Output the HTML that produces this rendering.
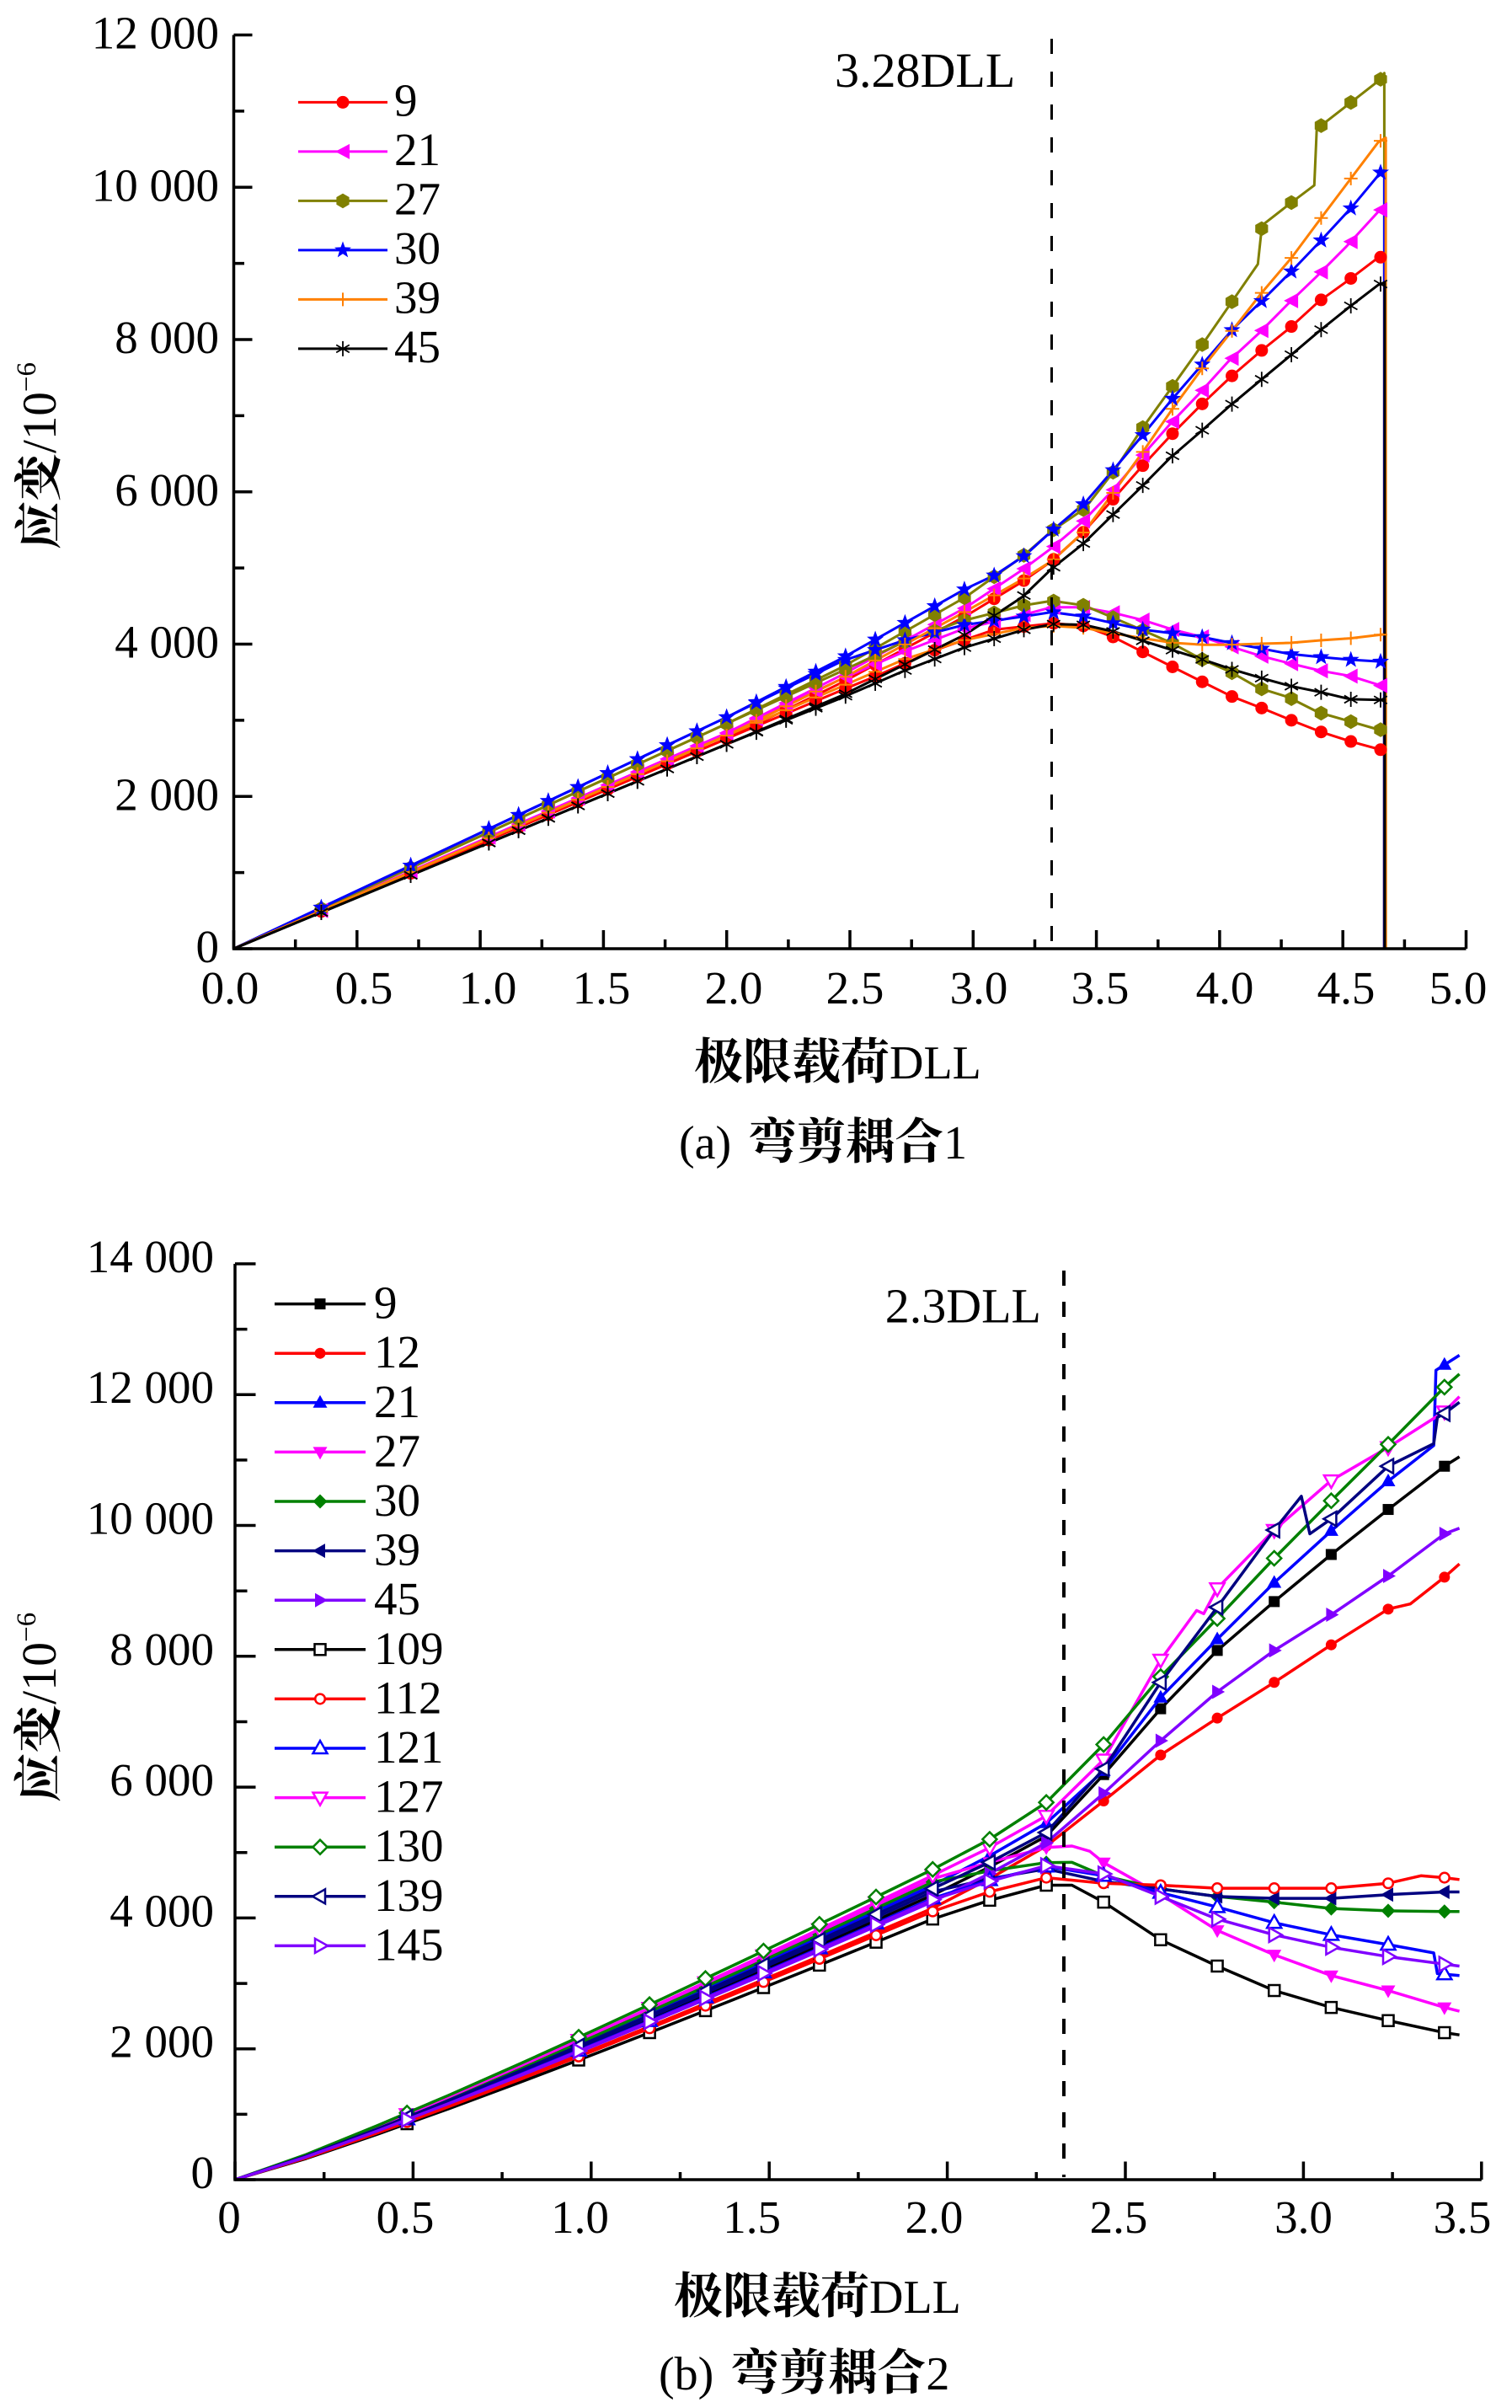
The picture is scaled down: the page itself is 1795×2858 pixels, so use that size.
<!DOCTYPE html>
<html><head><meta charset="utf-8">
<style>
html,body{margin:0;padding:0;background:#fff;}
svg{display:block;}
.t{font-family:"Liberation Serif","Noto Serif CJK SC",serif;font-size:55px;fill:#000;}
.cj{font-family:"Noto Serif CJK SC","Noto Sans CJK SC",serif;font-weight:bold;}
</style></head><body>
<svg id="S" xmlns="http://www.w3.org/2000/svg" width="1795" height="2858" viewBox="0 0 1795 2858">
<rect width="1795" height="2858" fill="#fff"/>

<!-- ===== Chart (a) ===== -->
<g id="dataA"></g>
<path d="M1248.5,46V1124" stroke="#000" stroke-width="3" stroke-dasharray="18 21" fill="none"/>
<path d="M277.5,41.5V1126H1740.5" stroke="#000" stroke-width="3.5" fill="none"/>
<path d="M277.5,1126h22M277.5,1035.6h12.5M277.5,945.3h22M277.5,854.9h12.5M277.5,764.5h22M277.5,674.1h12.5M277.5,583.8h22M277.5,493.4h12.5M277.5,403h22M277.5,312.6h12.5M277.5,222.3h22M277.5,131.9h12.5M277.5,41.5h22
M277.5,1126v-22M350.7,1126v-11M423.8,1126v-22M497,1126v-11M570.1,1126v-22M643.3,1126v-11M716.4,1126v-22M789.6,1126v-11M862.7,1126v-22M935.9,1126v-11M1009,1126v-22M1082.2,1126v-11M1155.3,1126v-22M1228.5,1126v-11M1301.6,1126v-22M1374.8,1126v-11M1447.9,1126v-22M1521.1,1126v-11M1594.2,1126v-22M1667.4,1126v-11M1740.5,1126v-22" stroke="#000" stroke-width="3.5" fill="none"/>

<g class="t" text-anchor="end">
<text x="260" y="1142">0</text>
<text x="260" y="961.3">2 000</text>
<text x="260" y="780.5">4 000</text>
<text x="260" y="599.8">6 000</text>
<text x="260" y="419">8 000</text>
<text x="260" y="238.3">10 000</text>
<text x="260" y="57.5">12 000</text>
</g>
<g class="t" text-anchor="middle">
<text x="273" y="1191">0.0</text>
<text x="432" y="1191">0.5</text>
<text x="579" y="1191">1.0</text>
<text x="714" y="1191">1.5</text>
<text x="871" y="1191">2.0</text>
<text x="1015" y="1191">2.5</text>
<text x="1162" y="1191">3.0</text>
<text x="1306" y="1191">3.5</text>
<text x="1454" y="1191">4.0</text>
<text x="1598" y="1191">4.5</text>
<text x="1731" y="1191">5.0</text>
</g>
<g class="t">
<text x="468" y="137.4">9</text>
<text x="468" y="195.9">21</text>
<text x="468" y="254.4">27</text>
<text x="468" y="312.9">30</text>
<text x="468" y="371.4">39</text>
<text x="468" y="429.9">45</text>
<text x="991" y="103" font-size="58">3.28DLL</text>
<text x="824" y="1280" font-size="56"><tspan class="cj" font-size="58">极限载荷</tspan>DLL</text>
<text x="806" y="1375" font-size="56">(a) <tspan class="cj" font-size="58" dx="6">弯剪耦合</tspan>1</text>
<text transform="translate(66,652) rotate(-90)" font-size="57"><tspan class="cj">应变</tspan>/10<tspan font-size="33" dy="-24">−6</tspan></text>
</g>
<g id="legA"></g>

<!-- ===== Chart (b) ===== -->
<g id="dataB"></g>
<path d="M1263,1508V2584" stroke="#000" stroke-width="4" stroke-dasharray="18 19" fill="none"/>
<path d="M279,1500V2587H1758.8" stroke="#000" stroke-width="3.5" fill="none"/>
<path d="M279,2587h24.5M279,2509.4h14.5M279,2431.7h24.5M279,2354.1h14.5M279,2276.4h24.5M279,2198.8h14.5M279,2121.1h24.5M279,2043.5h14.5M279,1965.8h24.5M279,1888.2h14.5M279,1810.5h24.5M279,1732.9h14.5M279,1655.2h24.5M279,1577.6h14.5M279,1500h24.5
M279,2587v-21.5M384.7,2587v-9M490.4,2587v-21.5M596.1,2587v-9M701.8,2587v-21.5M807.5,2587v-9M913.2,2587v-21.5M1018.9,2587v-9M1124.6,2587v-21.5M1230.3,2587v-9M1336,2587v-21.5M1441.7,2587v-9M1547.4,2587v-21.5M1653.1,2587v-9M1758.8,2587v-21.5" stroke="#000" stroke-width="3.5" fill="none"/>

<g class="t" text-anchor="end">
<text x="254" y="2597">0</text>
<text x="254" y="2441.7">2 000</text>
<text x="254" y="2286.4">4 000</text>
<text x="254" y="2131.1">6 000</text>
<text x="254" y="1975.8">8 000</text>
<text x="254" y="1820.5">10 000</text>
<text x="254" y="1665.2">12 000</text>
<text x="254" y="1510">14 000</text>
</g>
<g class="t" text-anchor="middle">
<text x="272" y="2650">0</text>
<text x="481" y="2650">0.5</text>
<text x="688.5" y="2650">1.0</text>
<text x="892.6" y="2650">1.5</text>
<text x="1109" y="2650">2.0</text>
<text x="1328" y="2650">2.5</text>
<text x="1547.5" y="2650">3.0</text>
<text x="1736" y="2650">3.5</text>
</g>
<g class="t">
<text x="444" y="1564.6">9</text>
<text x="444" y="1623.2">12</text>
<text x="444" y="1681.8">21</text>
<text x="444" y="1740.4">27</text>
<text x="444" y="1799">30</text>
<text x="444" y="1857.6">39</text>
<text x="444" y="1916.2">45</text>
<text x="444" y="1974.8">109</text>
<text x="444" y="2033.4">112</text>
<text x="444" y="2092">121</text>
<text x="444" y="2150.6">127</text>
<text x="444" y="2209.2">130</text>
<text x="444" y="2267.8">139</text>
<text x="444" y="2326.4">145</text>
<text x="1050.7" y="1569.6" font-size="58">2.3DLL</text>
<text x="800" y="2745" font-size="56"><tspan class="cj" font-size="58">极限载荷</tspan>DLL</text>
<text x="782" y="2836" font-size="56">(b) <tspan class="cj" font-size="58" dx="6">弯剪耦合</tspan>2</text>
<text transform="translate(66,2139) rotate(-90)" font-size="58"><tspan class="cj">应变</tspan>/10<tspan font-size="33" dy="-24">−6</tspan></text>
</g>
<g id="legB"></g>
</svg>

<script>
(function(){
var NS='http://www.w3.org/2000/svg';
function E(t,a,p){var e=document.createElementNS(NS,t);for(var k in a)e.setAttribute(k,a[k]);p.appendChild(e);return e;}
function interp(P,x){if(x<=P[0][0])return P[0][1];for(var i=1;i<P.length;i++){if(x<=P[i][0]){var a=P[i-1],b=P[i];if(b[0]===a[0])return b[1];return a[1]+(b[1]-a[1])*(x-a[0])/(b[0]-a[0]);}}return P[P.length-1][1];}
function poly(g,pts,x,y,c,open){
  var s=pts.map(function(p){return (x+p[0]).toFixed(1)+','+(y+p[1]).toFixed(1);}).join(' ');
  var a={points:s,fill:open?'#fff':c};
  if(open){a.stroke=c;a['stroke-width']=2.5;}
  E('polygon',a,g);
}
function mk(g,t,x,y,c,open){
  switch(t){
    case 'circle':E('circle',{cx:x,cy:y,r:7.5,fill:c},g);break;
    case 'hex':var h=[];for(var i=0;i<6;i++){var a=Math.PI/6+i*Math.PI/3;h.push([8.8*Math.cos(a),8.8*Math.sin(a)]);}poly(g,h,x,y,c,false);break;
    case 'tril':poly(g,[[-9,0],[8,-9],[8,9]],x,y,c,false);break;
    case 'star':var s=[];for(var j=0;j<10;j++){var r=j%2?4.3:10.5;var b=-Math.PI/2+j*Math.PI/5;s.push([r*Math.cos(b),r*Math.sin(b)]);}poly(g,s,x,y,c,false);break;
    case 'plus':E('path',{d:'M'+(x-8)+','+y+'H'+(x+8)+'M'+x+','+(y-8)+'V'+(y+8),stroke:c,'stroke-width':2,fill:'none'},g);break;
    case 'aster':var d='M'+x+','+(y-9)+'V'+(y+9);
      d+='M'+(x-7.8)+','+(y-4.5)+'L'+(x+7.8)+','+(y+4.5);
      d+='M'+(x-7.8)+','+(y+4.5)+'L'+(x+7.8)+','+(y-4.5);
      E('path',{d:d,stroke:c,'stroke-width':1.8,fill:'none'},g);break;
    case 'sq':var a2={x:x-6.5,y:y-6.5,width:13,height:13,fill:open?'#fff':c};if(open){a2.stroke=c;a2['stroke-width']=2.5;}E('rect',a2,g);break;
    case 'circ':var a3={cx:x,cy:y,r:open?5.8:6.5,fill:open?'#fff':c};if(open){a3.stroke=c;a3['stroke-width']=2.5;}E('circle',a3,g);break;
    case 'dia':poly(g,[[0,-8.5],[8.5,0],[0,8.5],[-8.5,0]],x,y,c,open);break;
    case 'triu':poly(g,[[0,-9],[8.5,6],[-8.5,6]],x,y,c,open);break;
    case 'trid':poly(g,[[0,9],[8.5,-6],[-8.5,-6]],x,y,c,open);break;
    case 'tlb':poly(g,[[-9,0],[6,-8.5],[6,8.5]],x,y,c,open);break;
    case 'trir':poly(g,[[9,0],[-6,-8.5],[-6,8.5]],x,y,c,open);break;
  }
}
function dstr(P,mx,my){return P.map(function(p,i){return (i?'L':'M')+mx(p[0]).toFixed(1)+','+my(p[1]).toFixed(1);}).join('');}

/* ---------- Chart A ---------- */
var axA=function(x){return 277.5+x*292.6;}, ayA=function(v){return 1126-v*0.090375;};
var A=[
 {c:'#FF0000',m:'circle',V:2759,
  up:[[2.47,3500],[2.97,4370],[3.2,4821],[3.32,5094],[3.445,5462],[3.562,5882],[3.683,6326],[3.803,6745],[3.924,7139],[4.045,7509],[4.164,7840],[4.284,8150],[4.401,8496],[4.524,8782],[4.638,9063],[4.668,9100]],
  lo:[[2.47,3400],[2.6,3572],[2.842,3918],[3.085,4189],[3.327,4273],[3.449,4239],[3.57,4091],[3.691,3893],[3.812,3696],[3.934,3498],[4.05,3312],[4.176,3154],[4.298,2991],[4.415,2843],[4.535,2719],[4.656,2611],[4.668,2600]]},
 {c:'#FF00FF',m:'tril',V:2833,
  up:[[2.47,3600],[2.97,4480],[3.197,4969],[3.32,5265],[3.445,5610],[3.562,6005],[3.679,6449],[3.8,6893],[3.917,7288],[4.034,7707],[4.161,8087],[4.274,8457],[4.39,8817],[4.511,9211],[4.644,9680],[4.672,9750]],
  lo:[[2.47,3550],[2.72,3900],[2.96,4200],[3.206,4387],[3.319,4485],[3.44,4485],[3.57,4411],[3.691,4313],[3.812,4189],[3.934,4091],[4.046,3967],[4.167,3844],[4.287,3746],[4.415,3647],[4.53,3582],[4.66,3450],[4.672,3440]]},
 {c:'#808000',m:'hex',V:2956,
  up:[[2.47,3700],[2.97,4620],[3.2,5150],[3.32,5488],[3.454,5784],[3.572,6276],[3.688,6843],[3.809,7386],[3.932,7945],[4.053,8511],[4.155,8990],[4.172,9498],[4.293,9804],[4.384,10026],[4.394,10765],[4.537,11125],[4.654,11421],[4.668,11500]],
  lo:[[2.47,3650],[2.7,4000],[2.95,4300],[3.206,4509],[3.319,4569],[3.449,4509],[3.566,4350],[3.683,4189],[3.804,4017],[3.926,3804],[4.046,3632],[4.159,3424],[4.28,3302],[4.401,3104],[4.523,2991],[4.639,2882],[4.668,2870]]},
 {c:'#0000FF',m:'star',V:3040,
  up:[[2.47,3819],[2.967,4723],[3.088,4906],[3.211,5167],[3.32,5488],[3.454,5857],[3.572,6301],[3.688,6745],[3.809,7223],[3.932,7682],[4.053,8136],[4.172,8511],[4.293,8901],[4.414,9310],[4.537,9740],[4.654,10198],[4.668,10220]],
  lo:[[2.47,3780],[2.72,4050],[2.96,4250],[3.206,4363],[3.319,4421],[3.449,4363],[3.57,4273],[3.691,4189],[3.812,4140],[3.934,4091],[4.046,4017],[4.167,3943],[4.287,3869],[4.415,3829],[4.53,3795],[4.656,3770],[4.668,3770]]},
 {c:'#FF8000',m:'plus',V:2800,
  up:[[2.47,3550],[2.97,4430],[3.2,4850],[3.32,5094],[3.454,5487],[3.572,6005],[3.688,6523],[3.809,7091],[3.932,7633],[4.053,8126],[4.172,8619],[4.293,9079],[4.414,9606],[4.537,10134],[4.644,10592],[4.674,10650]],
  lo:[[2.47,3450],[2.72,3800],[2.96,4050],[3.206,4214],[3.327,4239],[3.449,4214],[3.57,4140],[3.691,4076],[3.812,4017],[3.934,3992],[4.046,3992],[4.167,4006],[4.287,4017],[4.415,4051],[4.53,4076],[4.656,4125],[4.674,4130]]},
 {c:'#000000',m:'aster',V:2685,
  up:[[2.47,3330],[2.97,4130],[3.2,4620],[3.32,4994],[3.445,5315],[3.562,5684],[3.679,6054],[3.8,6449],[3.924,6794],[4.045,7139],[4.164,7460],[4.284,7781],[4.401,8102],[4.524,8422],[4.644,8718],[4.67,8750]],
  lo:[[2.47,3300],[2.72,3650],[2.96,3950],[3.206,4189],[3.327,4263],[3.449,4253],[3.57,4165],[3.691,4041],[3.812,3918],[3.934,3795],[4.046,3672],[4.176,3548],[4.287,3450],[4.415,3366],[4.53,3276],[4.656,3267],[4.67,3267]]}
];
var mxA=[0.355,0.718];for(var k=0;k<=30;k++)mxA.push(1.035+0.1206*k);
var gA=document.getElementById('dataA');
A.forEach(function(s){
  [s.up,s.lo].forEach(function(br){
    var P=[[0,0],[2.0,s.V]].concat(br);
    var last=P[P.length-1];
    var L=P.concat([[last[0],0]]);
    E('path',{d:dstr(L,axA,ayA),stroke:s.c,'stroke-width':3,fill:'none','stroke-linejoin':'round'},gA);
  });
});
A.forEach(function(s){
  [s.up,s.lo].forEach(function(br){
    var P=[[0,0],[2.0,s.V]].concat(br);
    mxA.forEach(function(x){mk(gA,s.m,axA(x),ayA(interp(P,x)),s.c,false);});
  });
});
var lA=document.getElementById('legA');
var rowsA=[121.4,179.9,238.4,296.9,355.4,413.9];
A.forEach(function(s,i){
  E('path',{d:'M354,'+rowsA[i]+'H460',stroke:s.c,'stroke-width':3,fill:'none'},lA);
  mk(lA,s.m,407,rowsA[i],s.c,false);
});

/* ---------- Chart B ---------- */
var axB=function(x){return 279+x*422.8;}, ayB=function(v){return 2587-v*0.07765;};
var B=[
 {c:'#000000',m:'sq',o:false,V:4350,p:[[2.119,4780],[2.278,5250],[2.439,6192],[2.599,7198],[2.758,8089],[2.918,8836],[3.078,9556],[3.238,10244],[3.396,10905],[3.438,11049]]},
 {c:'#FF0000',m:'circ',o:false,V:4150,p:[[2.119,4600],[2.278,5100],[2.439,5789],[2.599,6491],[2.758,7055],[2.918,7601],[3.078,8175],[3.238,8721],[3.3,8800],[3.396,9209],[3.438,9411]]},
 {c:'#0000FF',m:'triu',o:false,V:4500,p:[[2.119,4950],[2.278,5450],[2.439,6250],[2.599,7370],[2.758,8262],[2.918,9124],[3.078,9918],[3.238,10676],[3.366,11222],[3.372,12372],[3.438,12601]]},
 {c:'#FF00FF',m:'trid',o:false,V:4600,p:[[2.119,4850],[2.278,5076],[2.35,5100],[2.40,5020],[2.439,4846],[2.599,4357],[2.758,3811],[2.918,3437],[3.078,3121],[3.238,2891],[3.396,2632],[3.438,2575]]},
 {c:'#008000',m:'dia',o:false,V:4550,p:[[2.119,4720],[2.278,4846],[2.35,4850],[2.439,4645],[2.599,4444],[2.758,4329],[2.918,4242],[3.078,4145],[3.238,4110],[3.396,4098],[3.438,4098]]},
 {c:'#000080',m:'tlb',o:false,V:4400,p:[[2.119,4600],[2.278,4750],[2.439,4559],[2.599,4444],[2.758,4329],[2.918,4300],[3.078,4300],[3.238,4357],[3.396,4398],[3.438,4398]]},
 {c:'#8000FF',m:'trir',o:false,V:4250,p:[[2.119,4680],[2.278,5150],[2.439,5905],[2.599,6710],[2.758,7457],[2.918,8089],[3.078,8635],[3.238,9227],[3.396,9871],[3.438,9958]]},
 {c:'#000000',m:'sq',o:true,V:3984,p:[[2.119,4271],[2.278,4501],[2.35,4501],[2.439,4242],[2.599,3667],[2.758,3265],[2.918,2891],[3.078,2632],[3.238,2431],[3.396,2247],[3.438,2213]]},
 {c:'#FF0000',m:'circ',o:true,V:4100,p:[[2.119,4400],[2.278,4616],[2.439,4530],[2.599,4501],[2.758,4455],[2.918,4455],[3.078,4455],[3.238,4530],[3.33,4645],[3.396,4616],[3.438,4587]]},
 {c:'#0000FF',m:'triu',o:true,V:4300,p:[[2.119,4580],[2.278,4788],[2.439,4645],[2.599,4386],[2.758,4168],[2.918,3926],[3.078,3742],[3.238,3593],[3.366,3466],[3.376,3150],[3.438,3121]]},
 {c:'#FF00FF',m:'trid',o:true,V:4650,p:[[2.119,5075],[2.278,5561],[2.439,6420],[2.599,7946],[2.70,8700],[2.72,8650],[2.758,9038],[2.918,9929],[3.078,10688],[3.238,11194],[3.396,11740],[3.438,11969]]},
 {c:'#008000',m:'dia',o:true,V:4743,p:[[2.119,5203],[2.278,5766],[2.439,6652],[2.599,7688],[2.758,8577],[2.918,9498],[3.078,10377],[3.238,11239],[3.396,12113],[3.438,12314]]},
 {c:'#000080',m:'tlb',o:true,V:4450,p:[[2.119,4850],[2.278,5306],[2.439,6278],[2.599,7601],[2.758,8749],[2.918,9929],[2.994,10446],[3.018,9871],[3.078,10100],[3.238,10905],[3.366,11250],[3.376,11650],[3.396,11710],[3.438,11883]]},
 {c:'#8000FF',m:'trir',o:true,V:4280,p:[[2.119,4560],[2.278,4800],[2.439,4674],[2.599,4329],[2.758,3983],[2.918,3742],[3.078,3552],[3.238,3409],[3.396,3294],[3.438,3265]]}
];
var mxB=[0.483,0.965,1.164,1.321,1.484,1.641,1.80,1.959,2.119,2.278,2.439,2.599,2.758,2.918,3.078,3.238,3.396];
var gB=document.getElementById('dataB');
B.forEach(function(s){
  var base=[];
  [0,0.2,0.4,0.6,0.8,1.0,1.2,1.4,1.6,1.8,1.959].forEach(function(x){base.push([x,s.V*Math.pow(x/1.959,1.1)]);});
  s.P=base.concat(s.p);
  E('path',{d:dstr(s.P,axB,ayB),stroke:s.c,'stroke-width':3.5,fill:'none','stroke-linejoin':'round'},gB);
  mxB.forEach(function(x){mk(gB,s.m,axB(x),ayB(interp(s.P,x)),s.c,s.o);});
});
var lB=document.getElementById('legB');
B.forEach(function(s,i){
  var y=1547.6+58.6*i;
  E('path',{d:'M326,'+y.toFixed(1)+'H434',stroke:s.c,'stroke-width':3.5,fill:'none'},lB);
  mk(lB,s.m,380,y,s.c,s.o);
});
})();
</script>
</body></html>
